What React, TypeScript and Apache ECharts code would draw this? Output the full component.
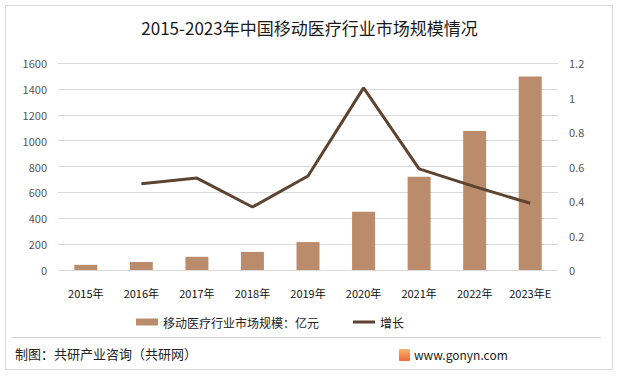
import React, { useEffect, useRef } from "react";
import * as echarts from "echarts";

const categories = ["2015年", "2016年", "2017年", "2018年", "2019年", "2020年", "2021年", "2022年", "2023年E"];
const marketSize = [40, 62, 102, 140, 216, 450, 720, 1075, 1495];
const growth = [null, 0.5, 0.533, 0.365, 0.545, 1.056, 0.586, 0.483, 0.387];
const leftTicks = { min: 0, max: 1600, interval: 200 };
const rightTicks = { min: 0, max: 1.2, interval: 0.2 };

const FONT = '"Microsoft YaHei", "Noto Sans CJK SC", "Noto Sans", sans-serif';

export default function App() {
  const ref = useRef<HTMLDivElement>(null);
  useEffect(() => {
    const chart = echarts.init(ref.current!, null, { renderer: "svg" });
    chart.setOption({
      animation: false,
      backgroundColor: "#ffffff",
      textStyle: { fontFamily: FONT },
      title: {
        text: "2015-2023年中国移动医疗行业市场规模情况",
        left: "center",
        top: 14,
        textStyle: { fontSize: 17, fontWeight: "normal", color: "#1a1a1a", fontFamily: FONT },
      },
      grid: { left: 58, right: 61, top: 63, bottom: 106 },
      legend: {
        left: 131,
        top: 311,
        itemGap: 34,
        itemWidth: 22,
        itemHeight: 7,
        textStyle: { fontSize: 12, color: "#222", fontFamily: FONT },
        data: [
          { name: "移动医疗行业市场规模：亿元", icon: "rect" },
          { name: "增长", icon: "path://M0,0 L0,0 M0,2 L22,2 L22,5 L0,5 Z M22,7 L22,7" },
        ],
      },
      xAxis: {
        type: "category",
        data: categories,
        axisLine: { show: false },
        axisTick: { show: false },
        axisLabel: { color: "#111", fontSize: 11, margin: 17, interval: 0 },
      },
      yAxis: [
        {
          type: "value",
          ...leftTicks,
          axisLabel: { color: "#555", fontSize: 11, margin: 11, formatter: (v: number) => String(v) },
          splitLine: { lineStyle: { color: "#d9d9d9" } },
          axisLine: { show: false },
          axisTick: { show: false },
        },
        {
          type: "value",
          ...rightTicks,
          axisLabel: { color: "#555", fontSize: 11, margin: 11, formatter: (v: number) => String(Math.round(v * 10) / 10) },
          splitLine: { show: false },
          axisLine: { show: false },
          axisTick: { show: false },
        },
      ],
      series: [
        {
          name: "移动医疗行业市场规模：亿元",
          type: "bar",
          data: marketSize,
          barWidth: 23,
          itemStyle: { color: "#bb8c6b" },
        },
        {
          name: "增长",
          type: "line",
          yAxisIndex: 1,
          data: growth,
          symbol: "none",
          lineStyle: { color: "#5e4430", width: 3 },
          itemStyle: { color: "#5e4430" },
        },
      ],
      graphic: [
        {
          type: "rect",
          shape: { x: 5.5, y: 5.5, width: 607, height: 364 },
          style: { fill: "none", stroke: "#d9d9d9", lineWidth: 1 },
          silent: true,
        },
        {
          type: "line",
          shape: { x1: 12, y1: 337.5, x2: 601, y2: 337.5 },
          style: { stroke: "#d0d0d0", lineWidth: 1 },
        },
        {
          type: "text",
          x: 15,
          y: 347,
          style: { text: "制图：共研产业咨询（共研网）", fontSize: 13, fill: "#222", fontFamily: FONT },
        },
        {
          type: "rect",
          shape: { x: 399, y: 349, width: 11, height: 12, r: 1 },
          style: {
            fill: new echarts.graphic.LinearGradient(0, 0, 0, 1, [
              { offset: 0, color: "#f6b26b" },
              { offset: 1, color: "#ef6a3a" },
            ]),
          },
        },
        {
          type: "text",
          x: 414,
          y: 348,
          style: { text: "www.gonyn.com", fontSize: 12, fill: "#222", fontFamily: FONT },
        },
      ],
    });
    return () => chart.dispose();
  }, []);
  return (
    <div
      ref={ref}
      style={{ position: "fixed", left: 0, top: 0, width: 619, height: 376 }}
    />
  );
}
